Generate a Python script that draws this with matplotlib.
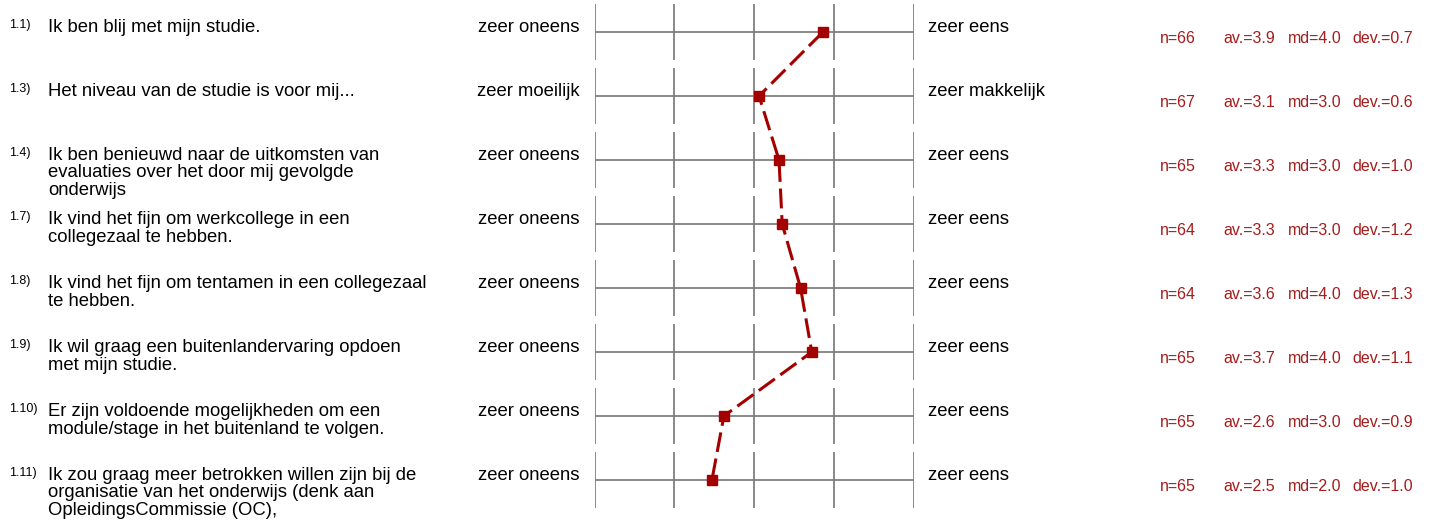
import numpy as np
import matplotlib.pyplot as plt
from matplotlib.transforms import blended_transform_factory

plt.rcParams['font.family'] = ['Liberation Sans', 'DejaVu Sans']

# item numbers and question texts
numbers = ["1.1)", "1.3)", "1.4)", "1.7)", "1.8)", "1.9)", "1.10)", "1.11)"]
questions = [
    "Ik ben blij met mijn studie.",
    "Het niveau van de studie is voor mij...",
    "Ik ben benieuwd naar de uitkomsten van\nevaluaties over het door mij gevolgde\nonderwijs",
    "Ik vind het fijn om werkcollege in een\ncollegezaal te hebben.",
    "Ik vind het fijn om tentamen in een collegezaal\nte hebben.",
    "Ik wil graag een buitenlandervaring opdoen\nmet mijn studie.",
    "Er zijn voldoende mogelijkheden om een\nmodule/stage in het buitenland te volgen.",
    "Ik zou graag meer betrokken willen zijn bij de\norganisatie van het onderwijs (denk aan\nOpleidingsCommissie (OC),",
]
left_labels = ["zeer oneens", "zeer moeilijk", "zeer oneens", "zeer oneens",
               "zeer oneens", "zeer oneens", "zeer oneens", "zeer oneens"]
right_labels = ["zeer eens", "zeer makkelijk", "zeer eens", "zeer eens",
                "zeer eens", "zeer eens", "zeer eens", "zeer eens"]

# mean positions (scale 1-5)
means = [3.86, 3.06, 3.31, 3.35, 3.58, 3.72, 2.62, 2.47]

# statistics
n_vals = [66, 67, 65, 64, 64, 65, 65, 65]
av_vals = [3.9, 3.1, 3.3, 3.3, 3.6, 3.7, 2.6, 2.5]
md_vals = [4.0, 3.0, 3.0, 3.0, 4.0, 4.0, 3.0, 2.0]
dev_vals = [0.7, 0.6, 1.0, 1.2, 1.3, 1.1, 0.9, 1.0]

W, H = 1429, 522
fig = plt.figure(figsize=(W / 100, H / 100), dpi=100)
ax = fig.add_axes([594.5 / W, 0, 319.5 / W, 1])
ax.set_xlim(1, 5)
ax.set_ylim(7.656, -0.5)
ax.axis('off')

rows = np.arange(len(questions))
grey = '#777777'
red = '#a50000'
stat_red = '#a51c1c'

for i in rows:
    ax.hlines(i, 1, 5, color=grey, lw=1.2)
    ax.vlines([1, 2, 3, 4, 5], i - 0.44, i + 0.43, color=grey, lw=1.2)

ax.plot(means, rows, color=red, lw=2.2, dashes=(6.5, 2.2),
        marker='s', markersize=6.5, markerfacecolor=red, markeredgecolor=red,
        clip_on=False, zorder=5)

tr = blended_transform_factory(fig.transFigure, ax.transData)
px = 1 / 64.0  # one pixel in row units
line_step = 17.5 * px

for i in rows:
    nlines = questions[i].count("\n") + 1
    fig.text(9 / W, i - 4 * px, numbers[i], transform=tr, fontsize=9,
             va='baseline', ha='left')
    # baseline alignment of multi-line text uses the last line
    fig.text(48 / W, i + (nlines - 1) * line_step, questions[i], transform=tr,
             fontsize=13.3, va='baseline', ha='left', linespacing=1.05)
    fig.text(580 / W, i, left_labels[i], transform=tr, fontsize=13.3,
             va='baseline', ha='right')
    fig.text(928 / W, i, right_labels[i], transform=tr, fontsize=13.3,
             va='baseline', ha='left')
    yb = i + 11.3 * px
    fig.text(1160 / W, yb, f"n={n_vals[i]}", transform=tr, fontsize=11.5,
             color=stat_red, va='baseline')
    fig.text(1223 / W, yb, f"av.={av_vals[i]:.1f}", transform=tr, fontsize=11.5,
             color=stat_red, va='baseline')
    fig.text(1288 / W, yb, f"md={md_vals[i]:.1f}", transform=tr, fontsize=11.5,
             color=stat_red, va='baseline')
    fig.text(1352 / W, yb, f"dev.={dev_vals[i]:.1f}", transform=tr, fontsize=11.5,
             color=stat_red, va='baseline')

fig.savefig('out.png', dpi=100)
